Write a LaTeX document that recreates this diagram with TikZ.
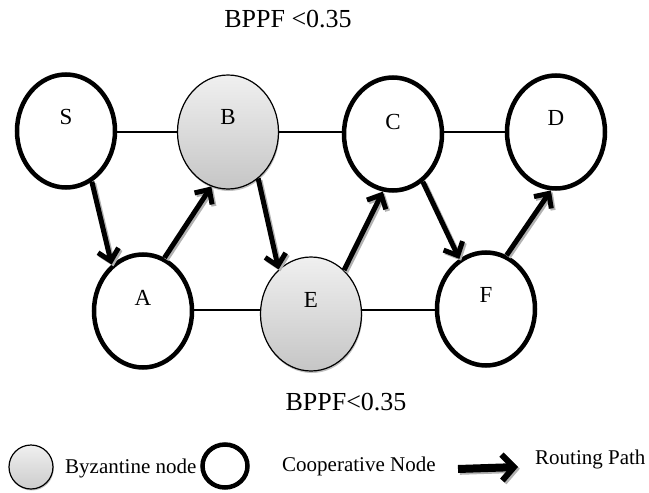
\documentclass[tikz,border=0pt]{standalone}
\usepackage{fontspec}
\setmainfont{Liberation Serif}
\usetikzlibrary{shapes.geometric,arrows.meta,shadows}

\tikzset{
  coop/.style={ellipse, draw=black, line width=4.5pt, fill=white,
    minimum width=98pt, minimum height=113pt, inner sep=0pt},
  byz/.style={ellipse, draw=black, line width=1.2pt,
    top color=gray!12, bottom color=gray!45,
    drop shadow={shadow xshift=0.8pt, shadow yshift=-2pt, fill=gray!70, opacity=0.7},
    minimum width=101pt, minimum height=114pt, inner sep=0pt},
  lbl/.style={font=\fontsize{23}{26}\selectfont},
  link/.style={draw=black, line width=1.3pt},
  route/.style={draw=black, line width=5pt,
    -{Straight Barb[length=11pt,width=21pt,line width=5pt]}},
  routeshadow/.style={route, draw=gray!60,
    transform canvas={xshift=1.8pt,yshift=-1.8pt}},
  legtext/.style={font=\fontsize{21}{24}\selectfont, anchor=west, inner sep=0pt},
  bigtext/.style={font=\fontsize{26}{30}\selectfont, inner sep=0pt},
}

\begin{document}
\begin{tikzpicture}[x=1pt, y=-1pt]
  \useasboundingbox (0,0) rectangle (649,493);

  % network nodes
  \node[coop] (S) at (66,131)  {};
  \node[byz]  (B) at (228,132) {};
  \node[coop] (C) at (393,134) {};
  \node[coop] (D) at (556,132) {};
  \node[coop] (A) at (143,311) {};
  \node[byz]  (E) at (311,314) {};
  \node[coop] (F) at (486,309) {};

  % node letters, set a little above the centres
  \node[lbl] (tS) at (66,117)  {S};
  \node[lbl] (tB) at (228,117) {B};
  \node[lbl] (tC) at (393,122) {C};
  \node[lbl] (tD) at (556,118) {D};
  \node[lbl] (tA) at (143,298) {A};
  \node[lbl] (tE) at (311,300) {E};
  \node[lbl] (tF) at (486,295) {F};

  % radio links, kept level along each row
  \coordinate (row1) at (0,132);
  \coordinate (row2) at (0,310);
  \draw[link] (S.east |- row1) -- (B.west |- row1);
  \draw[link] (B.east |- row1) -- (C.west |- row1);
  \draw[link] (C.east |- row1) -- (D.west |- row1);
  \draw[link] (A.east |- row2) -- (E.west |- row2);
  \draw[link] (E.east |- row2) -- (F.west |- row2);

  % routing path: S-A-B-E-C-F-D
  \foreach \p/\q in {S.-63/A.124, A.68/B.-107, B.-57/E.126,
                     E.53/C.-100, C.-58/F.118, F.69/D.-95} {
    \draw[routeshadow] (\p) -- (\q);
    \draw[route] (\p) -- (\q);
  }

  % thresholds
  \node[bigtext] (thTop) at (288,19)  {BPPF <0.35};
  \node[bigtext] (thBot) at (346,402) {BPPF<0.35};

  % legend
  \node[ellipse, draw=black, line width=1.2pt, top color=gray!12, bottom color=gray!40,
        drop shadow={shadow xshift=0.8pt, shadow yshift=-1.5pt, fill=gray!70, opacity=0.7},
        minimum width=44pt, minimum height=44pt, inner sep=0pt] (lgB) at (31,467) {};
  \node[legtext] (lgBt) at (65,468) {Byzantine node};
  \node[ellipse, draw=black, line width=4.5pt, fill=white,
        minimum width=45pt, minimum height=43pt, inner sep=0pt] (lgC) at (225,466) {};
  \node[legtext] (lgCt) at (282,466) {Cooperative Node};
  \coordinate (lgA1) at (458,469);
  \coordinate (lgA2) at (518,467);
  \draw[routeshadow, line width=8pt, -{Straight Barb[length=12pt,width=26pt,line width=6pt]}] (lgA1) -- (lgA2);
  \draw[route, line width=8pt, -{Straight Barb[length=12pt,width=26pt,line width=6pt]}] (lgA1) -- (lgA2);
  \node[legtext] (lgAt) at (535,459) {Routing Path};
\end{tikzpicture}
\end{document}
